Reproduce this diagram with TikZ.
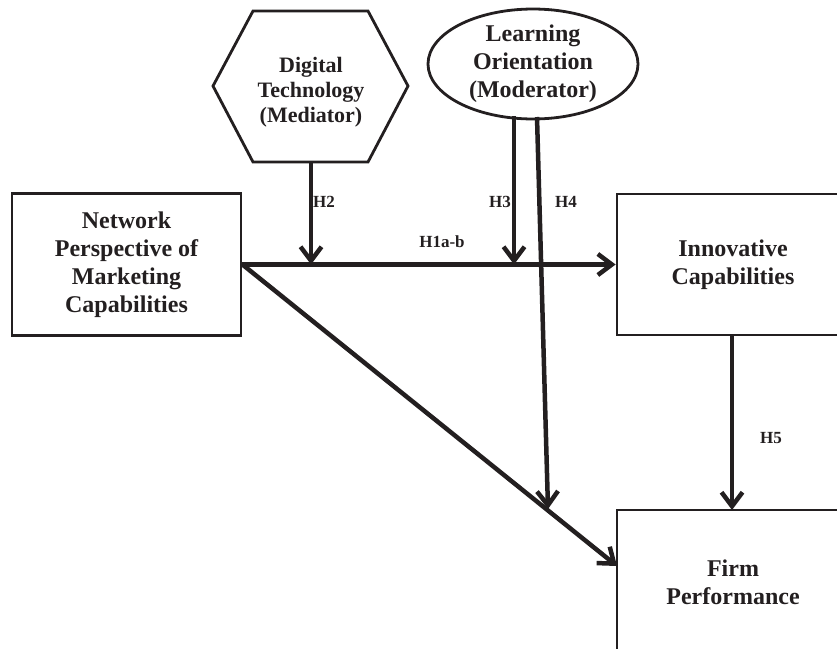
\documentclass[tikz,border=0pt]{standalone}
\usepackage{fontspec}
\setmainfont{Liberation Serif}
\usetikzlibrary{arrows.meta,shapes.geometric}
\definecolor{ink}{HTML}{231F20}
\begin{document}
\begin{tikzpicture}[x=1pt,y=-1pt,
  box/.style={draw=ink, line width=2.8pt, inner sep=0pt, text=ink,
    font=\bfseries\fontsize{24}{28}\selectfont, align=center},
  lbl/.style={text=ink, font=\bfseries\fontsize{17}{20}\selectfont, inner sep=0pt},
  conn/.style={draw=ink, line width=4.5pt,
    -{Straight Barb[length=14pt,width=21pt,line width=4.5pt]}},
  outline/.style={draw=ink, line width=2.8pt, line join=miter}]
\useasboundingbox (0,0) rectangle (837,648);
\clip (0,0) rectangle (837,648);

% boxes
\node[box, minimum width=229pt, minimum height=142pt] (npmc) at (126.5,264.5)
  {Network\\Perspective of\\Marketing\\Capabilities};
\node[box, minimum width=232pt, minimum height=141pt] (innov) at (733,264.5)
  {Innovative\\Capabilities};
\node[box, minimum width=232pt, minimum height=144pt] (firm) at (733,582)
  {Firm\\Performance};

% hexagon (mediator)
\draw[outline] (253,11) -- (368,11) -- (408,86) -- (368,162) -- (253,162) -- (213,86) -- cycle;
\node[text=ink, font=\bfseries\fontsize{22}{25}\selectfont, align=center, inner sep=0pt]
  (hex) at (311,92) {Digital\\Technology\\(Mediator)};
\coordinate (hexb) at (311,162);

% ellipse (moderator)
\node[ellipse, draw=ink, line width=2.8pt, minimum width=210pt, minimum height=108pt,
  inner sep=0pt, text=ink, font=\bfseries\fontsize{24}{28}\selectfont, align=center]
  (lo) at (533,64) {Learning\\Orientation\\(Moderator)};

% coordinates
\coordinate (h2end) at (311,264.5);
\coordinate (h3s) at (514,116);
\coordinate (h3end) at (514,264.5);
\coordinate (h4s) at (537,117);
\coordinate (h4end) at (548,509);
\coordinate (diagend) at (617,566);
\coordinate (h5end) at (732,510);

% connectors
\draw[conn] (npmc.east) -- (innov.west);
\draw[conn] (hexb) -- (h2end);
\draw[conn] (h3s) -- (h3end);
\draw[conn] (h4s) -- (h4end);
\draw[conn] (npmc.east) -- (diagend);
\draw[conn] (innov.south -| h5end) -- (h5end);

% labels
\node[lbl] (lh2) at (324,202) {H2};
\node[lbl] (lh3) at (500,202) {H3};
\node[lbl] (lh4) at (566,202) {H4};
\node[lbl] (lh1) at (442,242) {H1a-b};
\node[lbl] (lh5) at (771,438) {H5};
\end{tikzpicture}
\end{document}
